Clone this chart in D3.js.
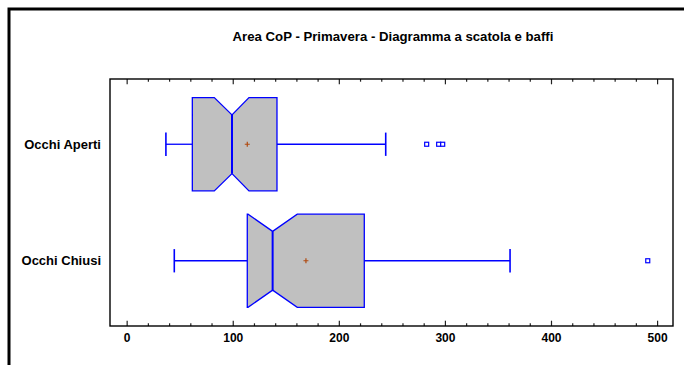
<!DOCTYPE html>
<html>
<head>
<meta charset="utf-8">
<script src="https://cdn.jsdelivr.net/npm/d3@7/dist/d3.min.js"></script>
<style>
  html, body { margin: 0; padding: 0; background: #fff; }
  svg { display: block; }
  text { font-family: "Liberation Sans", Arial, Helvetica, sans-serif; font-weight: bold; fill: #000; }
</style>
</head>
<body>
<svg id="chart" width="684" height="365"></svg>
<script>
// Box-and-whisker summary per group
const categories  = ["Occhi Aperti", "Occhi Chiusi"];
const whiskerLow  = [37.0, 44.9];
const q1          = [61.9, 113.7];
const median      = [99.3, 137.6];
const q3          = [141.7, 224.0];
const whiskerHigh = [244.2, 361.4];
const means       = [113.7, 169.0];
const notchLow    = [82.6, 114.4];
const notchHigh   = [115.3, 160.8];
const outliers    = [[282.8, 294.1, 297.9], [491.2]];
const xTicks      = [0, 100, 200, 300, 400, 500];
const xMinorTicks = [20, 40, 60, 80, 120, 140, 160, 180, 220, 240, 260, 280,
                     320, 340, 360, 380, 420, 440, 460, 480];
const title = "Area CoP - Primavera - Diagramma a scatola e baffi";

const svg = d3.select("#chart");
const plot = { left: 110, right: 673, top: 79, bottom: 326 };

// outer frame (runs off the bottom/right of the canvas)
svg.append("rect")
  .attr("x", 9).attr("y", 9).attr("width", 700).attr("height", 400)
  .attr("fill", "none").attr("stroke", "#000").attr("stroke-width", 3);

svg.append("text")
  .attr("x", 393).attr("y", 41)
  .attr("text-anchor", "middle")
  .style("font-size", "13.2px")
  .text(title);

const x = d3.scaleLinear().domain([-15.7, 515]).range([plot.left, plot.right]);
const y = d3.scalePoint().domain(categories).range([plot.top, plot.bottom]).padding(0.56);
const step = y.step();
const halfH = step * 0.4;
const capH = step * 0.1;
const notchRatio = 0.37;

// axes: ticks point inward on both top and bottom
const axBottom = svg.append("g").attr("transform", `translate(0,${plot.bottom})`)
  .call(d3.axisBottom(x).tickValues(xTicks).tickSize(-5.3).tickPadding(7.3).tickFormat(d3.format("d")));
const axBottomMinor = svg.append("g").attr("transform", `translate(0,${plot.bottom})`)
  .call(d3.axisBottom(x).tickValues(xMinorTicks).tickSize(-2.7).tickFormat(""));
const axTop = svg.append("g").attr("transform", `translate(0,${plot.top})`)
  .call(d3.axisTop(x).tickValues(xTicks).tickSize(-5.3).tickFormat(""));
const axTopMinor = svg.append("g").attr("transform", `translate(0,${plot.top})`)
  .call(d3.axisTop(x).tickValues(xMinorTicks).tickSize(-2.7).tickFormat(""));
[axBottom, axBottomMinor, axTop, axTopMinor].forEach(g => {
  g.select(".domain").remove();
  g.selectAll(".tick line").attr("stroke", "#222").attr("stroke-width", 1.2);
  g.selectAll(".tick text").style("font-size", "12px").style("font-family", null);
});

// plot border
svg.append("rect")
  .attr("x", plot.left).attr("y", plot.top)
  .attr("width", plot.right - plot.left).attr("height", plot.bottom - plot.top)
  .attr("fill", "none").attr("stroke", "#000").attr("stroke-width", 1.4);

// category labels
svg.selectAll("text.cat").data(categories).join("text")
  .attr("class", "cat")
  .attr("x", 101).attr("y", d => y(d))
  .attr("dy", "0.36em")
  .attr("text-anchor", "end")
  .style("font-size", "13px")
  .text(d => d);

const blue = "#0000ff";
const groups = svg.selectAll("g.box").data(categories).join("g").attr("class", "box");

groups.each(function(cat, i) {
  const g = d3.select(this);
  const cy = y(cat);
  const top = cy - halfH, bot = cy + halfH;
  const ind = halfH * notchRatio;
  const nl = Math.max(q1[i], notchLow[i]);
  const nh = Math.min(q3[i], notchHigh[i]);

  // whiskers
  g.append("line").attr("x1", x(whiskerLow[i])).attr("x2", x(q1[i]))
    .attr("y1", cy).attr("y2", cy).attr("stroke", blue).attr("stroke-width", 1.3);
  g.append("line").attr("x1", x(q3[i])).attr("x2", x(whiskerHigh[i]))
    .attr("y1", cy).attr("y2", cy).attr("stroke", blue).attr("stroke-width", 1.3);
  [whiskerLow[i], whiskerHigh[i]].forEach(v => {
    g.append("line").attr("x1", x(v)).attr("x2", x(v))
      .attr("y1", cy - capH).attr("y2", cy + capH)
      .attr("stroke", blue).attr("stroke-width", 1.6);
  });

  // notched box
  const pts = [
    [x(q1[i]), top], [x(nl), top], [x(median[i]), top + ind], [x(nh), top], [x(q3[i]), top],
    [x(q3[i]), bot], [x(nh), bot], [x(median[i]), bot - ind], [x(nl), bot], [x(q1[i]), bot]
  ];
  g.append("path")
    .attr("d", d3.line()(pts) + "Z")
    .attr("fill", "#c0c0c0").attr("stroke", blue).attr("stroke-width", 1.3)
    .attr("stroke-linejoin", "miter");

  // median
  g.append("line").attr("x1", x(median[i])).attr("x2", x(median[i]))
    .attr("y1", top + ind).attr("y2", bot - ind)
    .attr("stroke", blue).attr("stroke-width", 2);

  // mean marker
  const mx = x(means[i]);
  g.append("path")
    .attr("d", `M${mx - 2.5},${cy}H${mx + 2.5}M${mx},${cy - 2.5}V${cy + 2.5}`)
    .attr("stroke", "#b04a10").attr("stroke-width", 1.2);

  // outliers
  g.selectAll("rect.out").data(outliers[i]).join("rect")
    .attr("class", "out")
    .attr("x", d => x(d) - 2).attr("y", cy - 2)
    .attr("width", 4).attr("height", 4)
    .attr("fill", "#fff").attr("stroke", blue).attr("stroke-width", 1.2);
});
</script>
</body>
</html>
